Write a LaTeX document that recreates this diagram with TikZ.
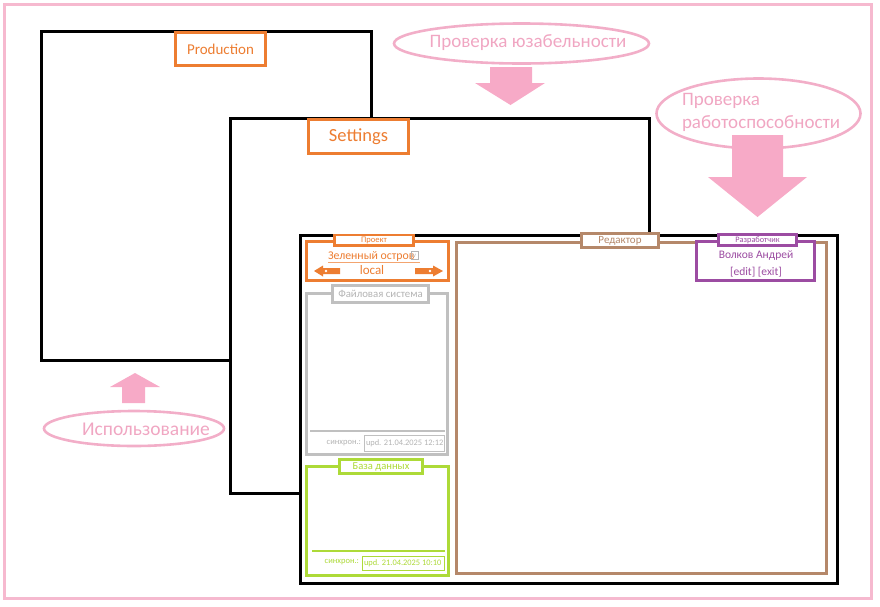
\documentclass[tikz,border=0pt]{standalone}
\usepackage{fontspec}
\setmainfont{Carlito}
\usetikzlibrary{fit,shapes.geometric}
\definecolor{pinkF}{HTML}{F6B9CF}
\definecolor{pinkE}{HTML}{F2AEC8}
\definecolor{pinkA}{HTML}{F7AAC7}
\definecolor{pinkT}{HTML}{F0A6C2}
\definecolor{orangeC}{HTML}{ED7D31}
\definecolor{grayC}{HTML}{C0C0C0}
\definecolor{grayT}{HTML}{B4B4B4}
\definecolor{limeC}{HTML}{ADDA38}
\definecolor{brownC}{HTML}{B5886A}
\definecolor{purpleC}{HTML}{9C4CA2}
\newcommand{\fsz}[1]{\fontsize{#1}{#1}\selectfont}
\begin{document}
\begin{tikzpicture}[x=1pt,y=-1pt,
  box/.style={fit={#1}, inner sep=0pt, fill=white},
  win/.style={draw=black, line width=3pt},
  frm/.style={line width=3pt},
  lbl/.style={line width=2.6pt},
  txt/.style={inner sep=0pt, outer sep=0pt},
  oval/.style={draw=pinkE, line width=2.6pt, ellipse, inner sep=0pt},
  blk/.style={fill=pinkA}
]
\useasboundingbox (0,0) rectangle (880,606);
\node[box={(4.5,4.5)(871.5,598.5)}, draw=pinkF, line width=3pt, fill=none] (outer) {};

% Production window
\node[box={(41.5,31.5)(371.5,360.5)}, win] (prod) {};
\node[box={(175.5,32.5)(265.5,65.5)}, draw=orangeC, lbl] (prodlbl) {};
\node[txt, text=orangeC, font=\fsz{15}] (prodtxt) at (prodlbl.center) {Production};

% Settings window
\node[box={(230.5,118.5)(649.5,493.5)}, win] (set) {};
\node[box={(308.5,119.5)(408.5,153.5)}, draw=orangeC, lbl] (setlbl) {};
\node[txt, text=orangeC, font=\fsz{18.5}] (settxt) at (setlbl.center) {Settings};

% Main window
\node[box={(300.5,235.5)(837.5,583.5)}, win] (main) {};

% Project box
\node[box={(306.5,241.5)(448.5,280.5)}, draw=orangeC, frm] (proj) {};
\node[box={(334.5,235)(413.5,245.5)}, draw=orangeC, lbl] (projlbl) {};
\node[txt, text=orangeC, font=\fsz{8.5}] (projtxt) at (projlbl.center) {Проект};
\node[txt, text=orangeC, font=\fsz{11.8}, anchor=west] (isl) at (328,256) {Зеленный остров};
\node[draw=grayT, line width=0.6pt, minimum width=7pt, minimum height=8pt, inner sep=0pt, font=\fsz{7}, text=grayT] (icon) at (414.5,255.5) {v};
\coordinate (ul1) at (328,262.5);
\coordinate (ul2) at (420,262.5);
\draw[orangeC!70, line width=0.6pt] (ul1) -- (ul2);
\node[txt, text=orangeC, font=\fsz{13}] (loc) at (372,270.5) {local};
\fill[orangeC] (314,271) -- (323,265.5) -- (323,268) -- (340,268) -- (340,274) -- (323,274) -- (323,276.5) -- cycle;
\fill[white] (326,271) circle (1.4);
\fill[orangeC] (443,271) -- (433,265.5) -- (433,268) -- (415,268) -- (415,274) -- (433,274) -- (433,276.5) -- cycle;
\fill[white] (430,271) circle (1.4);

% File system box
\node[box={(306.5,293.5)(447.5,454.5)}, draw=grayC, frm] (fs) {};
\node[box={(332.5,285.5)(428.5,302.5)}, draw=grayC, lbl] (fslbl) {};
\node[txt, text=grayT, font=\fsz{10.8}] (fstxt) at (fslbl.center) {Файловая система};
\coordinate (fsl1) at (310,430.5);
\coordinate (fsl2) at (445,430.5);
\draw[grayC, line width=2pt] (fsl1) -- (fsl2);
\node[txt, text=grayT, font=\fsz{8.5}, anchor=east] (fssync) at (361,443) {синхрон.:};
\node[box={(364.5,435.5)(444.5,451)}, draw=grayC, line width=0.8pt] (fsupd) {};
\node[txt, text=grayT, font=\fsz{8.4}, anchor=west] (fsupdt) at (366,443.5) {upd. 21.04.2025 12:12};

% Database box
\node[box={(306.5,466.5)(448.5,575)}, draw=limeC, frm] (db) {};
\node[box={(339.5,459.5)(422.5,473.5)}, draw=limeC, lbl] (dblbl) {};
\node[txt, text=limeC, font=\fsz{10.6}] (dbtxt) at (dblbl.center) {База данных};
\coordinate (dbl1) at (312,551);
\coordinate (dbl2) at (445,551);
\draw[limeC, line width=2pt] (dbl1) -- (dbl2);
\node[txt, text=limeC, font=\fsz{8.5}, anchor=east] (dbsync) at (359,562.5) {синхрон.:};
\node[box={(362.5,556.5)(444.5,570)}, draw=limeC, line width=0.8pt] (dbupd) {};
\node[txt, text=limeC, font=\fsz{8.4}, anchor=west] (dbupdt) at (364,563.5) {upd. 21.04.2025 10:10};

% Editor box
\node[box={(456.5,242.5)(826,573)}, draw=brownC, frm] (ed) {};
\node[box={(581.5,233.5)(658.5,247.5)}, draw=brownC, lbl] (edlbl) {};
\node[txt, text=brownC, font=\fsz{11}] (edtxt) at (edlbl.center) {Редактор};

% Developer box
\node[box={(696.5,241.5)(814.5,280.5)}, draw=purpleC, frm] (dev) {};
\node[box={(718.5,234.5)(796.5,245.5)}, draw=purpleC, lbl] (devlbl) {};
\node[txt, text=purpleC, font=\fsz{8.3}] (devtxt) at (devlbl.center) {Разработчик};
\node[txt, text=purpleC, font=\fsz{11.5}] (devname) at (756,256) {Волков Андрей};
\node[txt, text=purpleC, font=\fsz{11.5}] (devact) at (756,272) {[edit] [exit]};

% Usability check
\node[oval, minimum width=255pt, minimum height=40pt] (usab) at (521.5,43.5) {};
\node[txt, text=pinkT, font=\fsz{19}] (usabt) at (528,43) {Проверка юзабельности};
\fill[blk] (490,67) -- (532,67) -- (532,83) -- (545,83) -- (510.5,105) -- (475,83) -- (490,83) -- cycle;

% Work check
\node[oval, minimum width=204pt, minimum height=70pt] (work) at (758.5,113.5) {};
\node[txt, text=pinkT, font=\fsz{19}, align=left, anchor=west] (workt) at (682,112) {Проверка\\[4pt]работоспособности};
\fill[blk] (732,135) -- (783,135) -- (783,177) -- (807,177) -- (757.5,217) -- (708,177) -- (732,177) -- cycle;

% Usage
\node[oval, minimum width=180pt, minimum height=35pt] (use) at (134,428.5) {};
\node[txt, text=pinkT, font=\fsz{19.5}] (uset) at (146,429.5) {Использование};
\fill[blk] (122,403) -- (145,403) -- (145,387) -- (160,387) -- (135,373) -- (110,387) -- (122,387) -- cycle;
\end{tikzpicture}
\end{document}
